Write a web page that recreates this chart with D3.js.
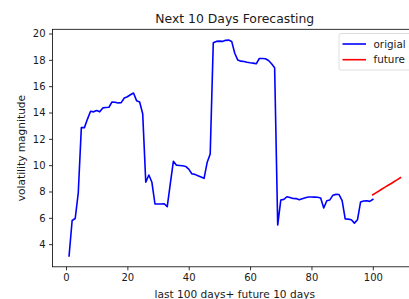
<!DOCTYPE html>
<html>
<head>
<meta charset="utf-8">
<script src="https://cdn.jsdelivr.net/npm/d3@7"></script>
<style>
  body { margin: 0; background: #fff; }
  #chart { width: 409px; height: 299px; overflow: hidden; }
  text { font-family: "DejaVu Sans", sans-serif; }
</style>
</head>
<body>
<div id="chart"></div>
<script>
// last 100 days (x = 1..100)
const origDays = d3.range(1, 101);
const origValues = [
  3.1, 5.8, 5.95, 7.9, 12.85, 12.85, 13.5, 14.1, 14.05, 14.15,
  14.05, 14.35, 14.38, 14.4, 14.8, 14.78, 14.72, 14.75, 15.1, 15.2,
  15.35, 15.48, 14.9, 14.8, 13.9, 8.7, 9.25, 8.7, 7.05, 7.05,
  7.05, 7.07, 6.85, 8.6, 10.3, 10.0, 9.98, 9.95, 9.9, 9.7,
  9.35, 9.3, 9.2, 9.1, 9.0, 10.2, 10.85, 19.3, 19.4, 19.42,
  19.4, 19.48, 19.5, 19.4, 18.5, 17.98, 17.9, 17.87, 17.82, 17.78,
  17.75, 17.7, 18.1, 18.1, 18.08, 17.95, 17.7, 17.4, 5.45, 7.35,
  7.4, 7.6, 7.55, 7.47, 7.46, 7.37, 7.45, 7.52, 7.58, 7.58,
  7.57, 7.56, 7.5, 6.75, 7.3, 7.36, 7.72, 7.78, 7.77, 7.3,
  5.92, 5.9, 5.86, 5.6, 5.85, 7.2, 7.28, 7.3, 7.25, 7.4
];
// future 10 days
const futureDays = [100, 101, 102, 103, 104, 105, 106, 107, 108, 109];
const futureValues = [7.75, 7.9, 8.04, 8.19, 8.33, 8.47, 8.61, 8.76, 8.9, 9.05];

const xTicks = [0, 20, 40, 60, 80, 100];
const yTicks = [4, 6, 8, 10, 12, 14, 16, 18, 20];
const legendNames = ["origial", "future"];
const legendColors = ["#0000ff", "#ff0000"];

function drawChart() {
  const width = 409, height = 299;
  const plot = { left: 52.5, right: 417, top: 29.3, bottom: 266.8 };

  const svg = d3.select("#chart")
    .append("svg")
    .attr("width", width)
    .attr("height", height)
    .attr("viewBox", `0 0 ${width} ${height}`);

  svg.append("rect")
    .attr("width", width)
    .attr("height", height)
    .attr("fill", "#fff");

  // matplotlib style 5% margins around the data
  const allX = origDays.concat(futureDays);
  const allY = origValues.concat(futureValues);
  const [x0, x1] = d3.extent(allX);
  const [y0, y1] = d3.extent(allY);
  const xPad = (x1 - x0) * 0.05, yPad = (y1 - y0) * 0.05;

  const xScale = d3.scaleLinear()
    .domain([x0 - xPad, x1 + xPad])
    .range([plot.left, plot.right]);

  const yScale = d3.scaleLinear()
    .domain([y0 - yPad, y1 + yPad])
    .range([plot.bottom, plot.top]);

  const line = d3.line()
    .x(d => xScale(d[0]))
    .y(d => yScale(d[1]));

  svg.append("path")
    .datum(origDays.map((d, i) => [d, origValues[i]]))
    .attr("d", line)
    .attr("fill", "none")
    .attr("stroke", legendColors[0])
    .attr("stroke-width", 1.6)
    .attr("stroke-linejoin", "round")
    .attr("stroke-linecap", "square");

  svg.append("path")
    .datum(futureDays.map((d, i) => [d, futureValues[i]]))
    .attr("d", line)
    .attr("fill", "none")
    .attr("stroke", legendColors[1])
    .attr("stroke-width", 1.6)
    .attr("stroke-linejoin", "round")
    .attr("stroke-linecap", "square");

  const xAxis = svg.append("g")
    .attr("transform", `translate(0,${plot.bottom})`)
    .call(d3.axisBottom(xScale)
      .tickValues(xTicks)
      .tickSize(3.5)
      .tickPadding(3.5)
      .tickSizeOuter(0));

  const yAxis = svg.append("g")
    .attr("transform", `translate(${plot.left},0)`)
    .call(d3.axisLeft(yScale)
      .tickValues(yTicks)
      .tickSize(3.5)
      .tickPadding(3.5)
      .tickSizeOuter(0));

  [xAxis, yAxis].forEach(ax => {
    ax.select(".domain").remove();
    ax.selectAll(".tick line").attr("stroke", "#000").attr("stroke-width", 0.8);
    ax.selectAll(".tick text")
      .attr("fill", "#1a1a1a")
      .style("font-size", "10px")
      .style("font-family", "'DejaVu Sans', sans-serif");
  });

  // frame
  svg.append("rect")
    .attr("x", plot.left)
    .attr("y", plot.top)
    .attr("width", plot.right - plot.left)
    .attr("height", plot.bottom - plot.top)
    .attr("fill", "none")
    .attr("stroke", "#000")
    .attr("stroke-width", 0.8);

  svg.append("text")
    .attr("x", (plot.left + plot.right) / 2)
    .attr("y", 23)
    .attr("text-anchor", "middle")
    .attr("fill", "#1a1a1a")
    .style("font-size", "12.4px")
    .text("Next 10 Days Forecasting");

  svg.append("text")
    .attr("x", (plot.left + plot.right) / 2)
    .attr("y", 297.5)
    .attr("text-anchor", "middle")
    .attr("fill", "#1a1a1a")
    .style("font-size", "10.6px")
    .text("last 100 days+ future 10 days");

  svg.append("text")
    .attr("transform", `translate(24.5,${(plot.top + plot.bottom) / 2}) rotate(-90)`)
    .attr("text-anchor", "middle")
    .attr("fill", "#1a1a1a")
    .style("font-size", "10.6px")
    .text("volatility magnitude");

  // legend, upper right
  const legend = svg.append("g")
    .attr("transform", "translate(339,33.5)");

  legend.append("rect")
    .attr("width", 73)
    .attr("height", 36.5)
    .attr("rx", 2)
    .attr("fill", "#fff")
    .attr("fill-opacity", 0.8)
    .attr("stroke", "#d6d6d6")
    .attr("stroke-width", 0.8);

  legendNames.forEach((name, i) => {
    const yy = 10.5 + i * 15.7;
    legend.append("line")
      .attr("x1", 3.5)
      .attr("x2", 27)
      .attr("y1", yy)
      .attr("y2", yy)
      .attr("stroke", legendColors[i])
      .attr("stroke-width", 1.6);
    legend.append("text")
      .attr("x", 34.5)
      .attr("y", yy + 3.7)
      .attr("fill", "#1a1a1a")
      .style("font-size", "10.4px")
      .text(name);
  });
}

drawChart();
</script>
</body>
</html>
